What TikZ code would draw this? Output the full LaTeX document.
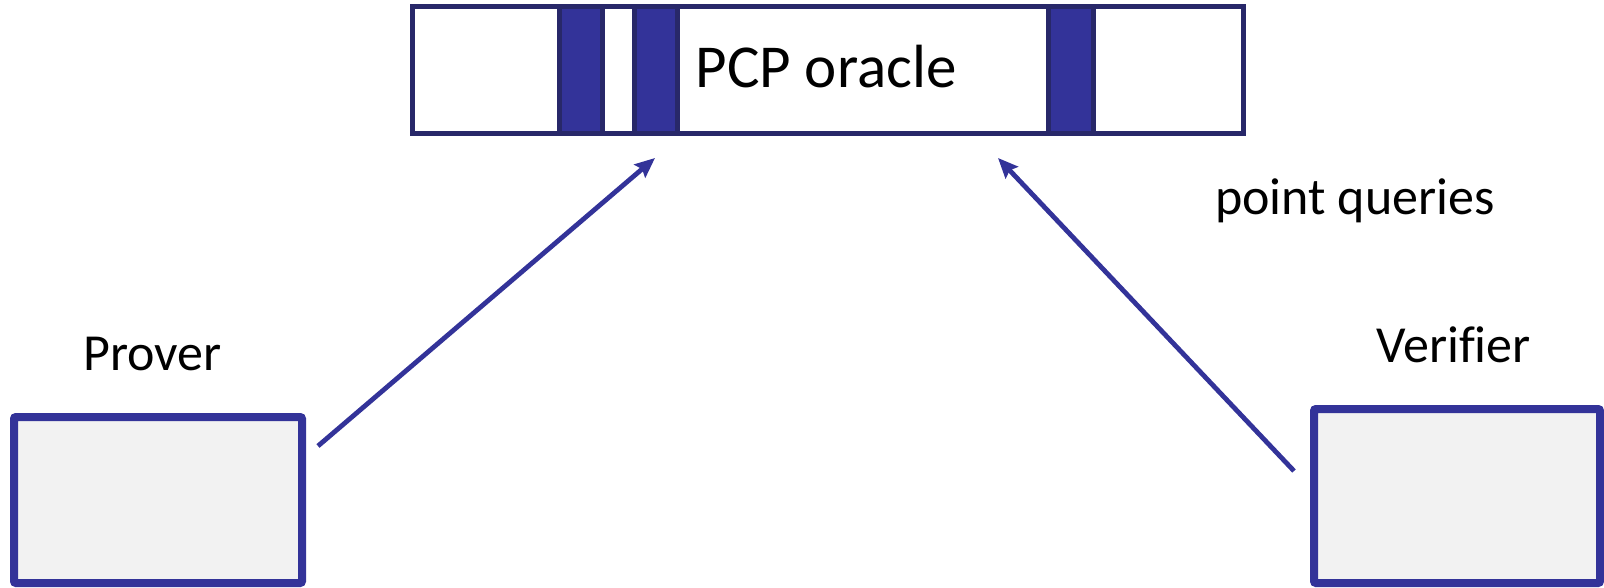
\documentclass[tikz,border=0pt]{standalone}
\usepackage{fontspec}
\setmainfont[Ligatures=NoCommon]{Carlito}
\usetikzlibrary{arrows.meta}
\definecolor{navy}{RGB}{40,40,105}
\definecolor{indigo}{RGB}{51,51,153}
\definecolor{boxgray}{RGB}{242,242,242}
\tikzset{
  oraclebar/.style={draw=navy, line width=5pt, fill=white},
  cell/.style={draw=navy, line width=5pt, fill=indigo},
  party/.style={draw=indigo, line width=8pt, fill=boxgray, rounded corners=2pt},
  biglabel/.style={inner sep=0pt, anchor=base, font=\fontsize{61}{72}\selectfont},
  label/.style={inner sep=0pt, anchor=base, font=\fontsize{52}{62}\selectfont},
  query/.style={draw=indigo, line width=4.8pt, -{Stealth[length=20pt,width=17pt,inset=3pt]}}
}
\begin{document}
\begin{tikzpicture}[x=1pt,y=-1pt]
\useasboundingbox (0,0) rectangle (1604,588);
% the oracle string with its queried cells
\draw[oraclebar] (412.5,6.5) rectangle (1243.5,133.5);
\draw[cell] (559.5,6.5) rectangle (602.5,133.5);
\draw[cell] (634.5,6.5) rectangle (677.5,133.5);
\draw[cell] (1048.5,6.5) rectangle (1093.5,133.5);
\node[biglabel] (oracle) at (826,88) {PCP oracle};
% the two parties
\draw[party] (14,417) rectangle (302,583);
\draw[party] (1314,409) rectangle (1600,583);
\node[label] (prover) at (152.5,370) {Prover};
\node[label] (verifier) at (1453.5,362) {Verifier};
\node[label] (queries) at (1355,215) {point queries};
% arrows into the oracle
\coordinate (pstart) at (318,446);
\coordinate (ptip) at (655,158);
\coordinate (vstart) at (1294,471);
\coordinate (vtip) at (998,158);
\draw[query] (pstart) -- (ptip);
\draw[query] (vstart) -- (vtip);
\end{tikzpicture}
\end{document}
